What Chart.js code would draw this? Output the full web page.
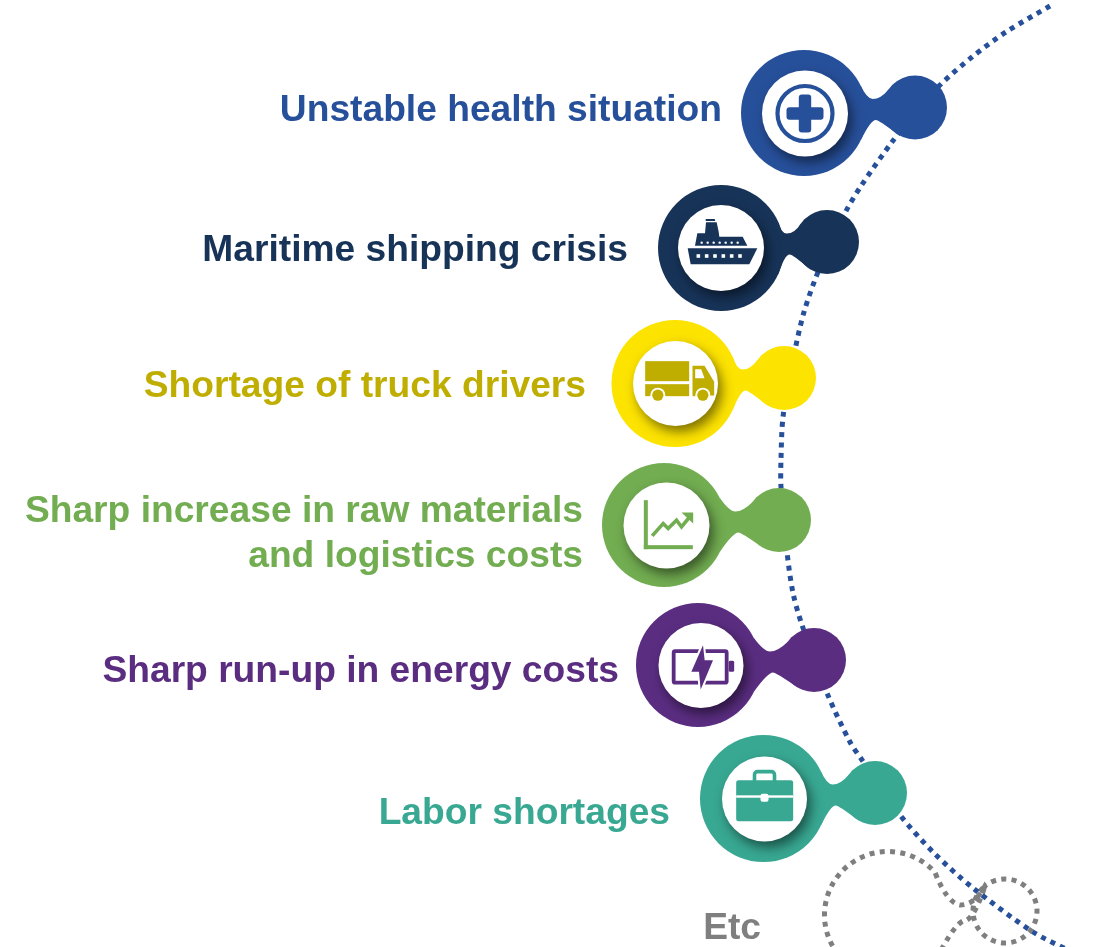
<!DOCTYPE html>
<html><head><meta charset="utf-8">
<style>html,body{margin:0;padding:0;background:#fff}#w{width:1106px;height:947px;position:relative}</style>
<script src="https://cdn.jsdelivr.net/npm/chart.js@4"></script>
</head><body><div id="w"><canvas id="c" width="1106" height="947"></canvas></div>
<script>
// --- values ---
const curveX = [1050,1006,972,940,915,892,861,845,822,804,792,783,781,781,787,793,802,827,850,862,900,934,973,1033,1068];
const curveY = [6,32,57,85,113,142,186,213,262,312,365,417,459,487,552,593,625,693,742,760,815,853,888,932,950];
const labels = ['Unstable health situation','Maritime shipping crisis','Shortage of truck drivers','Sharp increase in raw materials|and logistics costs','Sharp run-up in energy costs','Labor shortages'];
const labelRight = [722,628,586,583,619,670];
const labelBase = [121,261,397,522,567,682,824];
const colors = ['#27509b','#173358','#fde300','#72ad51','#5a2d81','#38a892'];
const textColors = ['#27509b','#173358','#bfae00','#72ad51','#5a2d81','#38a892'];
const bigX = [804,721,675,664,698,763.5];
const bigY = [113,248,383.5,525,665,798.5];
const bigR = [63,63,63.5,62,62,63.5];
const innerX = [805,721,675.5,666.5,701,764.5];
const innerY = [113.5,248,383.5,525.5,665.5,799];
const innerR = [43,43,42.5,43,42.5,42.5];
const smallX = [915,827,784,779,814,875];
const smallY = [107.5,242,378,520,660,793];
const smallR = [32,32,32,32,32,32];
const etcLabel = 'Etc';
const ghostBig = [888,915,63.5];
const ghostSmall = [1005,911,32];

function neckPath(ctx, b, s, br, sr){
  const d = s.x-b.x;
  const nx = s.x-0.38*d, nTop = s.y-8.5, nBot = s.y+12.5;
  const A = {x:b.x+br*Math.cos(-0.46), y:b.y+br*Math.sin(-0.46)};
  const D = {x:b.x+br*Math.cos(0.44), y:b.y+br*Math.sin(0.44)};
  const B = {x:s.x-0.82*sr, y:s.y-0.57*sr};
  const C = {x:s.x-0.585*sr, y:s.y+0.81*sr};
  ctx.moveTo(A.x,A.y);
  ctx.quadraticCurveTo(nx-6,nTop,nx,nTop);
  ctx.quadraticCurveTo(nx+8,nTop,B.x,B.y);
  ctx.lineTo(C.x,C.y);
  ctx.quadraticCurveTo(nx+6,nBot,nx+3,nBot);
  ctx.quadraticCurveTo(nx-2,nBot,D.x,D.y);
  ctx.closePath();
}
function rr(ctx,x,y,w,h,r){ctx.beginPath();ctx.roundRect(x,y,w,h,r);}
function poly(ctx,pts){ctx.beginPath();pts.forEach((p,i)=>i?ctx.lineTo(p[0],p[1]):ctx.moveTo(p[0],p[1]));ctx.closePath();}

const icons = [
 (c,col)=>{ // medical
  c.strokeStyle=col;c.lineWidth=4.2;c.beginPath();c.arc(0,0,27.5,0,7);c.stroke();
  c.fillStyle=col;rr(c,-18.5,-6.2,37,12.4,3);c.fill();rr(c,-6.2,-19,12.4,38,3);c.fill();
 },
 (c,col)=>{ // ship
  const z=1/3,T=(x,y)=>[(x-153)*z,(y-129)*z];c.fillStyle=col;
  poly(c,[[53,130],[262,130],[238,178],[62,178]].map(p=>T(...p)));c.fill();
  poly(c,[[75,122],[232,122],[218,95],[148,95],[146,80],[140,52],[108,52],[105,85],[82,85]].map(p=>T(...p)));c.fill();
  poly(c,[[107,42],[134,42],[136,48],[107,48]].map(p=>T(...p)));c.fill();
  c.fillStyle='#fff';
  [95,113,131,149,167,185,203].forEach(x=>{const p=T(x,113);c.beginPath();c.arc(p[0],p[1],1.2,0,7);c.fill();});
  [85,110,135,160,185,210].forEach(x=>{const p=T(x,153);c.fillRect(p[0]-1.8,p[1]-1.8,3.6,3.6);});
 },
 (c,col)=>{ // truck
  const z=1/3,T=(x,y)=>[(x-226)*z,(y-220)*z];c.fillStyle=col;
  let p=T(135,153);c.fillRect(p[0],p[1],44,20);
  p=T(135,222);c.fillRect(p[0],p[1],44,12);
  poly(c,[[277,167],[313,167],[342,215],[342,256],[277,258]].map(q=>T(...q)));c.fill();
  c.fillStyle='#fff';poly(c,[[285,177],[303,177],[313,204],[285,204]].map(q=>T(...q)));c.fill();
  [[173,255],[308,255]].forEach(w=>{const q=T(...w);c.fillStyle='#fff';c.beginPath();c.arc(q[0],q[1],7.5,0,7);c.fill();c.fillStyle=col;c.beginPath();c.arc(q[0],q[1],5.6,0,7);c.fill();});
 },
 (c,col)=>{ // rising chart
  const z=1/3,T=(x,y)=>[(x-200)*z,(y-646)*z];c.fillStyle=col;
  let p=T(132,570);c.fillRect(p[0],p[1],4,49);
  p=T(132,705);c.fillRect(p[0],p[1],49,4);
  c.strokeStyle=col;c.lineWidth=3.6;c.lineJoin='miter';c.beginPath();
  [[157,677],[190,640],[205,655],[230,630],[245,650],[268,622]].forEach((q,i)=>{const r=T(...q);i?c.lineTo(r[0],r[1]):c.moveTo(r[0],r[1]);});c.stroke();
  poly(c,[[245,607],[280,607],[280,640]].map(q=>T(...q)));c.fill();
 },
 (c,col)=>{ // battery
  const z=1/3,T=(x,y)=>[(x-214)*z,(y-211)*z];
  c.strokeStyle=col;c.lineWidth=3.8;let p=T(129,165);
  rr(c,p[0]+1,p[1]+1,53,31.5,1.5);c.stroke();
  c.fillStyle=col;p=T(297,197);rr(c,p[0],p[1],5.5,11,1.5);c.fill();
  const bolt=[[220,150],[185,230],[208,230],[213,283],[250,195],[225,195]].map(q=>T(...q));
  poly(c,bolt);c.strokeStyle='#fff';c.lineWidth=4;c.lineJoin='miter';c.stroke();c.fill();
 },
 (c,col)=>{ // briefcase
  const z=1/3,T=(x,y)=>[(x-404)*z,(y-611)*z];
  let p=T(374,529);c.strokeStyle=col;c.lineWidth=3.6;rr(c,p[0],p[1],20,14,3);c.stroke();
  c.fillStyle=col;p=T(319,555);rr(c,p[0],p[1],57,41,2.5);c.fill();
  c.fillStyle='#fff';p=T(319,600);c.fillRect(p[0],p[1],57,2.4);
  p=T(392,595);rr(c,p[0],p[1],8,8,2);c.fill();
 }
];

const infographic = {
 id:'infographic',
 beforeDatasetDraw(chart,args){
  const ctx=chart.ctx,sx=chart.scales.x,sy=chart.scales.y;
  const tag=chart.data.datasets[args.index].tag;
  if(tag==='small'){
   bigX.forEach((x,i)=>{
    ctx.save();ctx.fillStyle=colors[i];ctx.beginPath();
    neckPath(ctx,{x:sx.getPixelForValue(x),y:sy.getPixelForValue(bigY[i])},{x:sx.getPixelForValue(smallX[i]),y:sy.getPixelForValue(smallY[i])},bigR[i],smallR[i]);
    ctx.fill();ctx.restore();
   });
  }
  if(tag==='inner'){
   ctx.save();ctx.shadowColor='rgba(0,0,0,0.5)';ctx.shadowBlur=12;ctx.shadowOffsetX=4;ctx.shadowOffsetY=6;
  }
 },
 afterDatasetDraw(chart,args){
  const ctx=chart.ctx,sx=chart.scales.x,sy=chart.scales.y;
  const px=v=>sx.getPixelForValue(v),py=v=>sy.getPixelForValue(v);
  const tag=chart.data.datasets[args.index].tag;
  if(tag==='ghost'){
   const bx=px(ghostBig[0]),by=py(ghostBig[1]),sxx=px(ghostSmall[0]),syy=py(ghostSmall[1]),br=ghostBig[2],sr=ghostSmall[2];
   ctx.save();ctx.strokeStyle='#7f7f7f';ctx.lineWidth=5;ctx.setLineDash([5,5.3]);ctx.beginPath();
   const aT=-0.74,aB=0.52;
   ctx.arc(bx,by,br,aB,aT,false);
   ctx.quadraticCurveTo(sxx-58,syy-8,sxx-45,syy-6);
   ctx.quadraticCurveTo(sxx-30,syy-6,sxx-20,syy-25);
   ctx.arc(sxx,syy,sr,Math.atan2(-25,-20),Math.atan2(22,-23)+Math.PI*2,false);
   ctx.quadraticCurveTo(sxx-32,syy+11,sxx-42,syy+10);
   ctx.quadraticCurveTo(sxx-50,syy+14,bx+br*Math.cos(aB),by+br*Math.sin(aB));
   ctx.stroke();ctx.restore();
  }
  if(tag==='inner'){
   ctx.restore();
   innerX.forEach((x,i)=>{ctx.save();ctx.translate(px(x),py(innerY[i]));icons[i](ctx,i===2?textColors[2]:colors[i]);ctx.restore();});
  }
 },
 afterDatasetsDraw(chart){
  const ctx=chart.ctx,sx=chart.scales.x,sy=chart.scales.y;
  ctx.save();ctx.font='bold 37.2px "Liberation Sans", Arial, sans-serif';ctx.textAlign='right';ctx.textBaseline='alphabetic';
  let k=0;
  labels.forEach((t,i)=>{
   ctx.fillStyle=textColors[i];
   t.split('|').forEach(line=>{ctx.fillText(line,sx.getPixelForValue(labelRight[i]),sy.getPixelForValue(labelBase[k]));k++;});
  });
  ctx.fillStyle='#7f7f7f';ctx.fillText(etcLabel,sx.getPixelForValue(761),sy.getPixelForValue(939));
  ctx.restore();
 }
};

new Chart(document.getElementById('c'),{
 type:'scatter',
 data:{datasets:[
  {tag:'ghost',order:6,data:[{x:ghostBig[0],y:ghostBig[1]},{x:ghostSmall[0],y:ghostSmall[1]}],pointRadius:0,showLine:false},
  {tag:'curve',order:5,data:curveX.map((x,i)=>({x,y:curveY[i]})),showLine:true,tension:0.3,borderColor:'#27509b',borderWidth:5,borderDash:[5,5.3],pointRadius:0,fill:false},
  {tag:'small',order:4,data:smallX.map((x,i)=>({x,y:smallY[i]})),pointRadius:smallR,backgroundColor:colors,borderWidth:0,showLine:false},
  {tag:'big',order:3,data:bigX.map((x,i)=>({x,y:bigY[i]})),pointRadius:bigR,backgroundColor:colors,borderWidth:0,showLine:false},
  {tag:'inner',order:2,data:innerX.map((x,i)=>({x,y:innerY[i]})),pointRadius:innerR,backgroundColor:'#ffffff',borderWidth:0,showLine:false}
 ]},
 options:{
  responsive:false,animation:false,events:[],
  layout:{padding:0,autoPadding:false},
  plugins:{legend:{display:false},tooltip:{enabled:false},title:{display:false}},
  scales:{
   x:{type:'linear',min:0,max:1106,display:false},
   y:{type:'linear',min:0,max:947,reverse:true,display:false}
  }
 },
 plugins:[infographic]
});
</script></body></html>
